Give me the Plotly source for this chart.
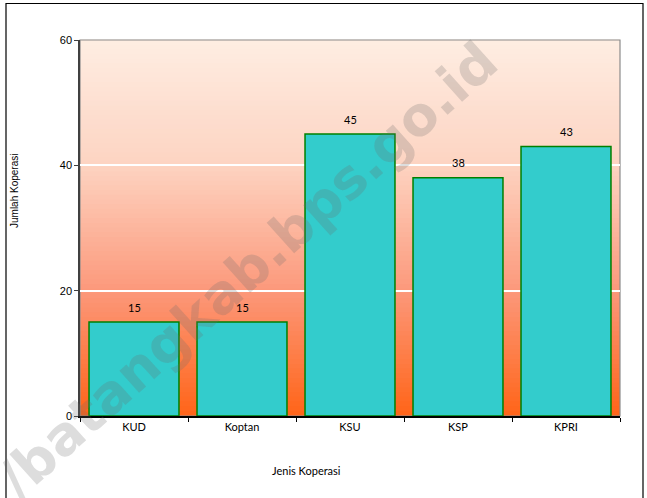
import plotly.graph_objects as go

categories = ["KUD", "Koptan", "KSU", "KSP", "KPRI"]
values = [15, 15, 45, 38, 43]
y_ticks = [0, 20, 40, 60]

W, H = 647, 498
L, R, T, B = 80, 620, 40, 416

fig = go.Figure()
fig.add_trace(go.Bar(
    x=categories, y=values,
    marker=dict(color="#33CCCC", line=dict(color="#008000", width=1.5)),
    showlegend=False, hoverinfo="x+y",
))

# gradient background strips
stops = [(0.0, (254, 237, 226)), (0.33, (253, 212, 194)), (0.67, (252, 152, 122)), (1.0, (255, 100, 24))]
def col(f):
    for (f0, c0), (f1, c1) in zip(stops[:-1], stops[1:]):
        if f0 <= f <= f1:
            t = (f - f0) / (f1 - f0)
            return "rgb(%d,%d,%d)" % tuple(round(a + (b - a) * t) for a, b in zip(c0, c1))
    return "rgb(%d,%d,%d)" % stops[-1][1]

shapes = []
N = 80
for i in range(N):
    f = (i + 0.5) / N
    shapes.append(dict(type="rect", xref="paper", yref="paper", x0=0, x1=1,
                       y0=1 - (i + 1) / N - 0.001, y1=1 - i / N + 0.001,
                       fillcolor=col(f), line=dict(width=0), layer="below"))
# plot border (gray top/right)
shapes.append(dict(type="rect", xref="paper", yref="paper", x0=0, x1=1, y0=0, y1=1,
                   line=dict(color="#8c8c8c", width=1.2), layer="below"))
# outer border
pw, ph = R - L, B - T
shapes.append(dict(type="rect", xref="paper", yref="paper",
                   x0=(6 - L) / pw, x1=(643 - L) / pw,
                   y0=(B - 505) / ph, y1=(B - 3.5) / ph,
                   line=dict(color="#000000", width=1.2), layer="above"))

annotations = [
    dict(text="Jumlah Koperasi", xref="paper", yref="paper", x=(15 - L) / pw, y=(B - 191) / ph,
         xanchor="center", yanchor="middle",
         textangle=-90, showarrow=False, font=dict(family="Liberation Sans", size=10, color="#000")),
    dict(text="Jenis Koperasi", xref="paper", yref="paper", x=(306 - L) / pw, y=(B - 470) / ph,
         xanchor="center", yanchor="middle",
         showarrow=False, font=dict(family="Lato, Liberation Sans", size=11, color="#000")),
]
for c, v in zip(categories, values):
    annotations.append(dict(text=str(v), x=c, y=v, xref="x", yref="y", showarrow=False,
                            xanchor="center", yanchor="middle", yshift=15,
                            font=dict(family="Lato, Liberation Sans", size=11, color="#000")))
annotations.append(dict(text="<b>/batangkab.bps.go.id</b>", xref="paper", yref="paper",
         x=(247 - L) / pw, y=(B - 270) / ph, xanchor="center", yanchor="middle",
         textangle=-42, showarrow=False,
         font=dict(family="DejaVu Sans", size=54, color="rgba(110,110,110,0.23)")))

fig.update_layout(
    width=W, height=H,
    margin=dict(l=L, r=W - R, t=T, b=H - B, pad=0, autoexpand=False),
    paper_bgcolor="white", plot_bgcolor="rgba(0,0,0,0)",
    bargap=0.167,
    shapes=shapes, annotations=annotations,
    xaxis=dict(tickson="boundaries", ticks="outside", ticklen=4, tickcolor="#000",
               showline=True, linecolor="#000", linewidth=1.5, showgrid=False,
               tickfont=dict(family="Lato, Liberation Sans", size=11, color="#000")),
    yaxis=dict(range=[0, 60], tickvals=y_ticks, ticks="outside", ticklen=4, tickcolor="#404040",
               showline=True, linecolor="#404040", linewidth=1.5,
               showgrid=True, gridcolor="white", gridwidth=1.5, zeroline=False,
               tickfont=dict(family="Liberation Sans", size=11, color="#000")),
)
fig.write_html("out.html", config={"displayModeBar": False},
               post_script="document.body.style.margin='0';document.body.style.overflow='hidden';")
